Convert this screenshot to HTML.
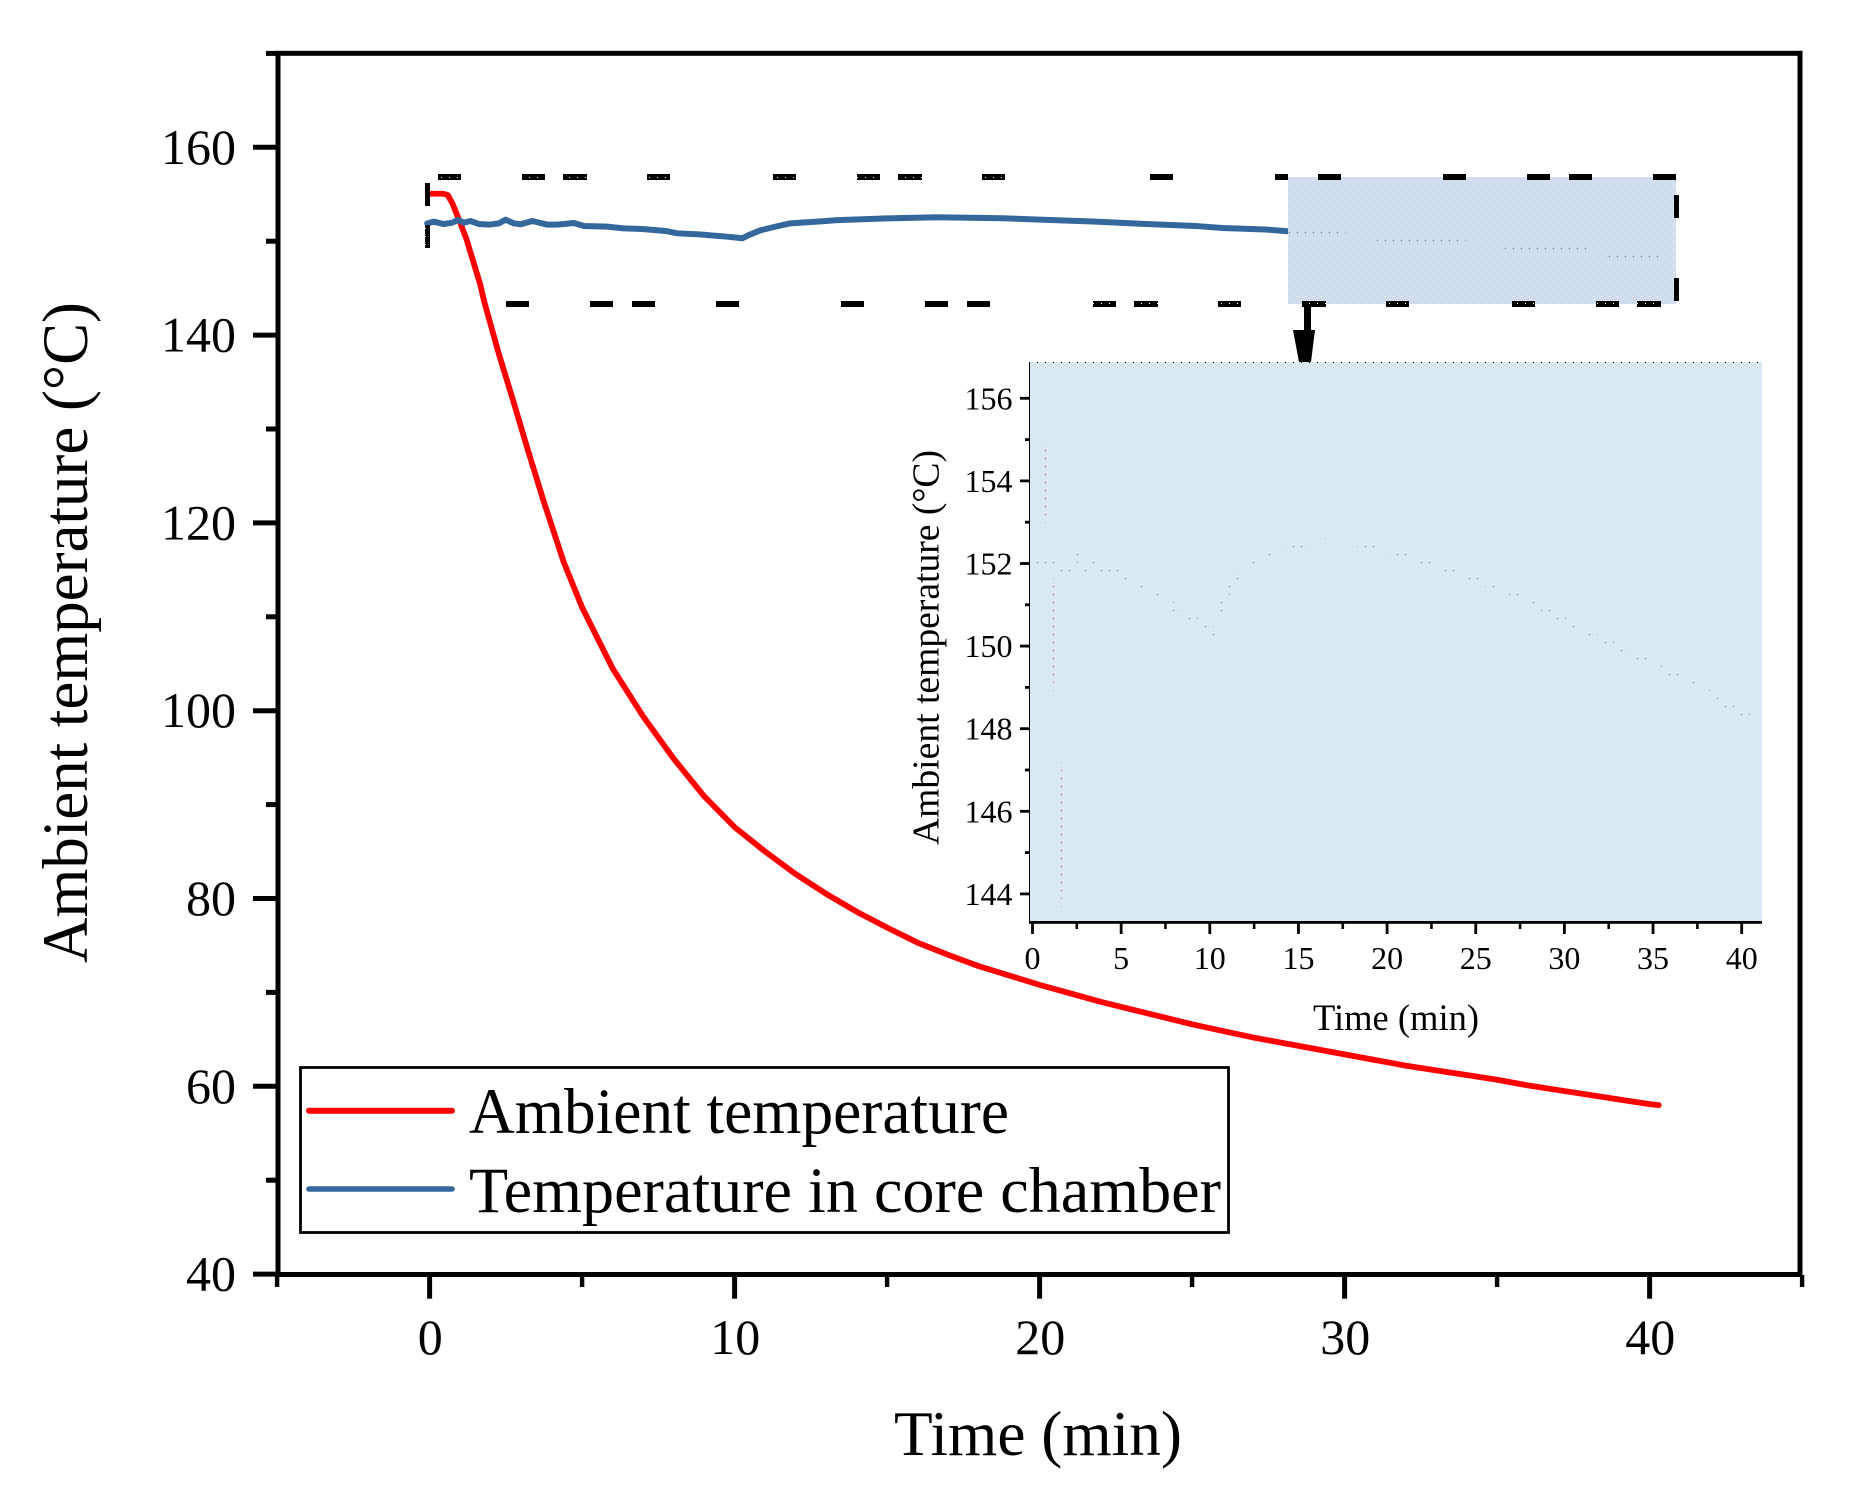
<!DOCTYPE html>
<html lang="en">
<head>
<meta charset="utf-8">
<title>Ambient temperature vs time</title>
<style>
html,body{margin:0;padding:0;background:#fff;width:1855px;height:1500px;overflow:hidden;}
svg{display:block;position:absolute;left:0;top:0;}
text{font-family:"Liberation Serif",serif;fill:#000;}
</style>
</head>
<body>
<svg id="chart" width="1855" height="1500" viewBox="0 0 1855 1500" xmlns="http://www.w3.org/2000/svg">
  <defs>
    <pattern id="rectHoles" patternUnits="userSpaceOnUse" x="1289" y="184" width="8" height="8">
      <path d="M1 0H8V8H0V1H1Z" fill="#cfddee" shape-rendering="crispEdges"/>
    </pattern>
    <pattern id="insetHoles" patternUnits="userSpaceOnUse" x="1037" y="362" width="8" height="8">
      <path d="M1 0H8V8H0V1H1Z" fill="#d9e9f2" shape-rendering="crispEdges"/>
    </pattern>
    <pattern id="topDashDots" patternUnits="userSpaceOnUse" x="1" y="177" width="8" height="8">
      <rect x="0" y="0" width="1" height="1" fill="#fff" shape-rendering="crispEdges"/>
    </pattern>
    <pattern id="bottomDashDots" patternUnits="userSpaceOnUse" x="5" y="303" width="8" height="8">
      <rect x="0" y="0" width="1" height="1" fill="#fff" shape-rendering="crispEdges"/>
    </pattern>
    <clipPath id="insetClip"><rect x="1030" y="362" width="732" height="561"/></clipPath>
  </defs>

  <g id="mainAxes"></g>
  <g id="mainSeries"></g>

  <rect x="1288" y="177" width="388" height="127" fill="url(#rectHoles)"/>

  <g shape-rendering="crispEdges">
    <g fill="#000">
      <rect x="425" y="183" width="5" height="23"/><rect x="425" y="225" width="5" height="23"/>
      <rect x="1674" y="195" width="5" height="23"/><rect x="1674" y="278" width="5" height="23"/>
      <rect x="1150" y="174" width="23" height="6"/><rect x="1275" y="174" width="13" height="6"/>
      <rect x="1318" y="174" width="23" height="6"/><rect x="1443" y="174" width="23" height="6"/>
      <rect x="1527" y="174" width="23" height="6"/><rect x="1569" y="174" width="23" height="6"/>
      <rect x="1653" y="174" width="23" height="6"/>
      <rect x="506" y="301" width="23" height="6"/><rect x="590" y="301" width="23" height="6"/>
      <rect x="632" y="301" width="23" height="6"/><rect x="716" y="301" width="23" height="6"/>
      <rect x="841" y="301" width="23" height="6"/><rect x="925" y="301" width="23" height="6"/>
      <rect x="967" y="301" width="23" height="6"/>
    </g>
    <g fill="#000">
      <rect x="438" y="174" width="23" height="6"/><rect x="522" y="174" width="23" height="6"/>
      <rect x="563" y="174" width="24" height="6"/><rect x="647" y="174" width="23" height="6"/>
      <rect x="773" y="174" width="23" height="6"/><rect x="857" y="174" width="23" height="6"/>
      <rect x="898" y="174" width="24" height="6"/><rect x="982" y="174" width="23" height="6"/>
    </g>
    <g fill="url(#topDashDots)">
      <rect x="438" y="174" width="23" height="6"/><rect x="522" y="174" width="23" height="6"/>
      <rect x="563" y="174" width="24" height="6"/><rect x="647" y="174" width="23" height="6"/>
      <rect x="773" y="174" width="23" height="6"/><rect x="857" y="174" width="23" height="6"/>
      <rect x="898" y="174" width="24" height="6"/><rect x="982" y="174" width="23" height="6"/>
    </g>
    <g fill="#000">
      <rect x="1093" y="301" width="23" height="6"/><rect x="1134" y="301" width="24" height="6"/>
      <rect x="1218" y="301" width="23" height="6"/><rect x="1302" y="301" width="24" height="6"/>
      <rect x="1386" y="301" width="23" height="6"/><rect x="1512" y="301" width="23" height="6"/>
      <rect x="1596" y="301" width="23" height="6"/><rect x="1637" y="301" width="24" height="6"/>
    </g>
    <g fill="url(#bottomDashDots)">
      <rect x="1093" y="301" width="23" height="6"/><rect x="1134" y="301" width="24" height="6"/>
      <rect x="1218" y="301" width="23" height="6"/><rect x="1302" y="301" width="24" height="6"/>
      <rect x="1386" y="301" width="23" height="6"/><rect x="1512" y="301" width="23" height="6"/>
      <rect x="1596" y="301" width="23" height="6"/><rect x="1637" y="301" width="24" height="6"/>
    </g>
    <g fill="#fff">
      <rect x="425" y="228" width="1" height="1"/><rect x="425" y="236" width="1" height="1"/><rect x="425" y="244" width="1" height="1"/>
    </g>
  </g>

  <g fill="#000">
    <rect x="1304" y="304" width="7" height="27"/>
    <polygon points="1293,330 1315,330 1311,362 1299,362"/>
  </g>

  <g id="insetAxes"></g>
  <g id="insetSeries" clip-path="url(#insetClip)"></g>
  <rect x="1030" y="362" width="732" height="559" fill="url(#insetHoles)"/>
  <g id="insetAxisFront"></g>

  <g>
    <rect x="300.5" y="1067.5" width="928" height="165" fill="none" stroke="#000" stroke-width="2.8"/>
    <line x1="309" y1="1110.7" x2="452" y2="1110.7" stroke="#f00" stroke-width="6" stroke-linecap="round"/>
    <text x="469" y="1133" font-size="65" textLength="540" lengthAdjust="spacingAndGlyphs">Ambient temperature</text>
    <line x1="309" y1="1189" x2="452" y2="1189" stroke="#34679c" stroke-width="5.6" stroke-linecap="round"/>
    <text x="469" y="1212" font-size="65" textLength="752" lengthAdjust="spacingAndGlyphs">Temperature in core chamber</text>
  </g>
</svg>

<script>
/* Main chart data */
var ambientTime = [0,0.45,0.6,0.75,1.0,1.2,1.66,1.78,2.27,2.76,3.2,3.74,4.4,5,6,7,8,9,10,11,12,13,14,15,16,17,18,19,20,21,22,23,24,25,26,27,28,29,30,31,32,33,34,35,36,37,38,39,40,40.3];
var ambientTemp = [155.05,155.05,154.9,154,152,150.3,145.4,143.7,138,132.8,128,122.3,115.8,111,104.5,99.4,94.9,90.9,87.6,85,82.6,80.5,78.6,76.9,75.3,74,72.8,71.8,70.8,69.9,69,68.2,67.4,66.6,65.9,65.2,64.6,64,63.4,62.8,62.2,61.7,61.2,60.7,60.1,59.6,59.1,58.6,58.1,58];
var coreTime = [-0.08,0.14,0.47,0.74,0.93,1.13,1.34,1.62,1.95,2.27,2.49,2.76,2.98,3.37,3.86,4.19,4.73,5.06,5.82,6.37,6.97,7.74,8.12,8.83,9.76,10.25,10.47,10.85,11.29,11.83,12.82,13.4,15.2,16.64,18.8,20,21.75,23.4,25.2,26,27.4,28.2,29.2,30.1,30.8,31.95,32.9,33.75,35.05,35.55,36.95,37.8,38.3,38.8,39.75,40.4];
var coreTemp = [151.9,152.08,151.83,151.97,152.26,151.97,152.15,151.83,151.76,151.9,152.29,151.9,151.8,152.15,151.76,151.76,151.94,151.62,151.55,151.37,151.3,151.09,150.84,150.73,150.48,150.31,150.66,151.16,151.51,151.9,152.11,152.25,152.45,152.55,152.45,152.3,152.1,151.85,151.6,151.4,151.25,151.05,150.8,150.6,150.4,150.2,150,149.8,149.6,149.4,149.2,149,148.8,148.6,148.45,148.3];

/* Main axis ticks */
var mainYMajorTicks = [40,60,80,100,120,140,160];
var mainYMajorLabels = ["40","60","80","100","120","140","160"];
var mainYMinorTicks = [50,70,90,110,130,150,170];
var mainXMajorTicks = [0,10,20,30,40];
var mainXMajorLabels = ["0","10","20","30","40"];
var mainXMinorTicks = [-5,5,15,25,35,45];

/* Inset axis ticks */
var insetYMajorTicks = [144,146,148,150,152,154,156];
var insetYMajorLabels = ["144","146","148","150","152","154","156"];
var insetYMinorTicks = [145,147,149,151,153,155];
var insetXMajorTicks = [0,5,10,15,20,25,30,35,40];
var insetXMajorLabels = ["0","5","10","15","20","25","30","35","40"];
var insetXMinorTicks = [2.5,7.5,12.5,17.5,22.5,27.5,32.5,37.5];

var NS = 'http://www.w3.org/2000/svg';

function mainX(t){ return 429.6 + t * 30.5; }
function mainY(v){ return 147.3 + (160 - v) * 9.39; }
function insetX(t){ return 1032.5 + t * 17.73; }
function insetY(v){ return 398.3 + (156 - v) * 41.3; }

function make(tag, attrs, parent){
  var el = document.createElementNS(NS, tag);
  for (var k in attrs) el.setAttribute(k, attrs[k]);
  parent.appendChild(el);
  return el;
}
function toPoints(ts, vs, fx, fy){
  var out = [];
  for (var i = 0; i < ts.length; i++) out.push(fx(ts[i]).toFixed(2) + ',' + fy(vs[i]).toFixed(2));
  return out.join(' ');
}

/* ---- main axes ---- */
var mainAxes = document.getElementById('mainAxes');
var frame = make('rect', {x:278, y:53.3, width:1522, height:1221.2, fill:'none', stroke:'#000', 'stroke-width':5}, mainAxes);



mainYMajorTicks.forEach(function(v, i){
  var tick = make('line', {x1:253, x2:278, y1:mainY(v), y2:mainY(v), stroke:'#000', 'stroke-width':5}, mainAxes);
  
  
  var label = make('text', {x:236, y:mainY(v) + 16.5, 'font-size':50, 'text-anchor':'end'}, mainAxes);
  label.textContent = mainYMajorLabels[i];
  
  
});
mainYMinorTicks.forEach(function(v){
  var tick = make('line', {x1:266, x2:278, y1:mainY(v), y2:mainY(v), stroke:'#000', 'stroke-width':5}, mainAxes);
  
  
});
mainXMajorTicks.forEach(function(t, i){
  var tick = make('line', {x1:mainX(t), x2:mainX(t), y1:1275, y2:1298.7, stroke:'#000', 'stroke-width':5}, mainAxes);
  
  
  var label = make('text', {x:mainX(t) + 0.6, y:1354, 'font-size':50, 'text-anchor':'middle'}, mainAxes);
  label.textContent = mainXMajorLabels[i];
  
  
});
mainXMinorTicks.forEach(function(t){
  var tick = make('line', {x1:mainX(t), x2:mainX(t), y1:1275, y2:1287, stroke:'#000', 'stroke-width':4.4}, mainAxes);
  
  
});
var xTitle = make('text', {x:894, y:1455, 'font-size':63, textLength:288, lengthAdjust:'spacingAndGlyphs'}, mainAxes);
xTitle.textContent = 'Time (min)';


var yTitle = make('text', {transform:'translate(87,963) rotate(-90)', x:0, y:0, 'font-size':65, textLength:661, lengthAdjust:'spacingAndGlyphs'}, mainAxes);
yTitle.textContent = 'Ambient temperature (°C)';



/* ---- main series ---- */
var mainSeries = document.getElementById('mainSeries');
var lineAmbient = make('polyline', {points:toPoints(ambientTime, ambientTemp, mainX, mainY), fill:'none', stroke:'#f00', 'stroke-width':5.8, 'stroke-linejoin':'round', 'stroke-linecap':'round'}, mainSeries);


var lineCore = make('polyline', {points:toPoints(coreTime, coreTemp, mainX, mainY), fill:'none', stroke:'#34679c', 'stroke-width':6, 'stroke-linejoin':'round', 'stroke-linecap':'round'}, mainSeries);



/* ---- inset axes ---- */
var insetAxes = document.getElementById('insetAxes');
var insetTop = make('rect', {x:1030, y:362, width:732, height:1, fill:'#000'}, insetAxes);


var insetLeft = make('rect', {x:1029, y:362, width:1.3, height:561, fill:'#000'}, insetAxes);



insetYMajorTicks.forEach(function(v, i){
  var tick = make('line', {x1:1020, x2:1029, y1:insetY(v), y2:insetY(v), stroke:'#000', 'stroke-width':2.8}, insetAxes);
  
  
  var label = make('text', {x:1012.5, y:insetY(v) + 11, 'font-size':32, 'text-anchor':'end'}, insetAxes);
  label.textContent = insetYMajorLabels[i];
  
  
});
insetYMinorTicks.forEach(function(v){
  var tick = make('line', {x1:1025, x2:1029, y1:insetY(v), y2:insetY(v), stroke:'#000', 'stroke-width':2.8}, insetAxes);
  
  
});
insetXMajorTicks.forEach(function(t, i){
  var tick = make('line', {x1:insetX(t), x2:insetX(t), y1:922, y2:934, stroke:'#000', 'stroke-width':2.8}, insetAxes);
  
  
  var label = make('text', {x:insetX(t), y:969, 'font-size':32, 'text-anchor':'middle'}, insetAxes);
  label.textContent = insetXMajorLabels[i];
  
  
});
insetXMinorTicks.forEach(function(t){
  var tick = make('line', {x1:insetX(t), x2:insetX(t), y1:922, y2:929, stroke:'#000', 'stroke-width':2.6}, insetAxes);
  
  
});
var insetXTitle = make('text', {x:1313, y:1030, 'font-size':37, textLength:166, lengthAdjust:'spacingAndGlyphs'}, insetAxes);
insetXTitle.textContent = 'Time (min)';


var insetYTitle = make('text', {transform:'translate(938.5,845) rotate(-90)', x:0, y:0, 'font-size':38, textLength:395, lengthAdjust:'spacingAndGlyphs'}, insetAxes);
insetYTitle.textContent = 'Ambient temperature (°C)';



/* ---- inset series (revealed through the dotted fill) ---- */
var insetSeries = document.getElementById('insetSeries');
var insetAmbient = make('polyline', {points:toPoints(ambientTime, ambientTemp, insetX, insetY), fill:'none', stroke:'#f00', 'stroke-width':5, 'stroke-linejoin':'round'}, insetSeries);


var insetCore = make('polyline', {points:toPoints(coreTime, coreTemp, insetX, insetY), fill:'none', stroke:'#34679c', 'stroke-width':5, 'stroke-linejoin':'round'}, insetSeries);



/* bottom axis sits above the fill */
var insetFront = document.getElementById('insetAxisFront');
var insetBottom = make('rect', {x:1029, y:921, width:733, height:2.8, fill:'#000'}, insetFront);


</script>
</body>
</html>
